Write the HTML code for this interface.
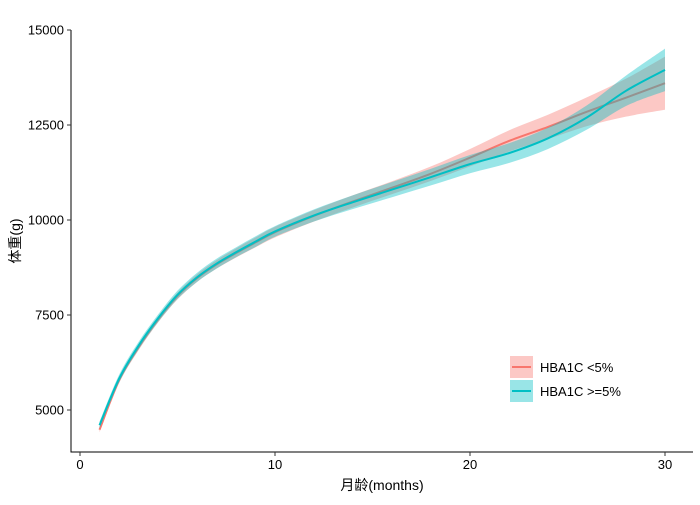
<!DOCTYPE html>
<html><head><meta charset="utf-8"><style>
body{margin:0;background:#fff}
svg text{font-family:"Liberation Sans","Noto Sans CJK SC",sans-serif}
</style></head><body>
<svg id="c" width="700" height="500"></svg>
<script>
const xs=[1,2,3,4,5,6,7,8,9,10,12,14,16,18,20,22,24,26,28,30];
const redMean=[4480,5780,6650,7380,8000,8470,8830,9130,9410,9680,10110,10490,10850,11220,11640,12080,12450,12850,13220,13600];
const cyanMean=[4600,5820,6690,7410,8030,8490,8850,9150,9430,9700,10120,10470,10800,11130,11470,11760,12150,12700,13400,13950];
const redHalf=[70,80,80,80,90,100,110,120,130,140,150,160,170,190,230,280,320,380,500,700];
const cyanHalf=[90,100,100,100,110,120,130,130,140,140,160,180,200,220,240,260,280,320,400,560];
const xTicks=[0,10,20,30];
const yTicks=[5000,7500,10000,12500,15000];
const seriesNames=["HBA1C <5%","HBA1C >=5%"];
const colors=["#F8766D","#00BFC4"];
const NS="http://www.w3.org/2000/svg";
const svg=document.getElementById('c');
const X=v=>80+v*19.5;
const Y=v=>30+(15000-v)*0.038;
function el(t,a,p){const e=document.createElementNS(NS,t);for(const k in a)e.setAttribute(k,a[k]);(p||svg).appendChild(e);return e;}
function smooth(pts){
  let d='M'+pts[0][0]+','+pts[0][1];
  for(let i=0;i<pts.length-1;i++){
    const p0=pts[i-1]||pts[i],p1=pts[i],p2=pts[i+1],p3=pts[i+2]||p2;
    const c1=[p1[0]+(p2[0]-p0[0])/6,p1[1]+(p2[1]-p0[1])/6];
    const c2=[p2[0]-(p3[0]-p1[0])/6,p2[1]-(p3[1]-p1[1])/6];
    d+=' C'+c1+' '+c2+' '+p2;
  }
  return d;
}
function band(mean,half,color,name){
  const up=xs.map((x,i)=>[X(x),Y(mean[i]+half[i])]);
  const lo=xs.map((x,i)=>[X(x),Y(mean[i]-half[i])]).reverse();
  const d=smooth(up)+' L'+lo[0]+' '+smooth(lo).slice(1)+' Z';
  const b=el('path',{d:d,fill:color,'fill-opacity':0.4});
  
  
  const l=el('path',{d:smooth(xs.map((x,i)=>[X(x),Y(mean[i])])),fill:'none',stroke:color,'stroke-width':2});
  
  
}
band(redMean,redHalf,colors[0],'hba1c-low');
band(cyanMean,cyanHalf,colors[1],'hba1c-high');
const ax=el('path',{d:'M71,30V452H693',fill:'none',stroke:'#000','stroke-width':1});


xTicks.forEach(t=>{
  el('line',{x1:X(t),x2:X(t),y1:452,y2:456,stroke:'#333'});
  const tx=el('text',{x:X(t),y:469,'text-anchor':'middle','font-size':13,fill:'#000'});tx.textContent=t;
  
  
});
yTicks.forEach(t=>{
  el('line',{x1:67,x2:71,y1:Y(t),y2:Y(t),stroke:'#333'});
  const tx=el('text',{x:64,y:Y(t)+4.5,'text-anchor':'end','font-size':13,fill:'#000'});tx.textContent=t;
  
  
});
const xt=el('text',{x:382,y:490,'text-anchor':'middle','font-size':14});xt.textContent='月龄(months)';


const yt=el('text',{x:0,y:0,'text-anchor':'middle','font-size':14,transform:'translate(20,241) rotate(-90)'});yt.textContent='体重(g)';


seriesNames.forEach((n,i)=>{
  const y0=356+i*24;
  const g=el('g',{});
  
  
  el('rect',{x:510,y:y0,width:23,height:22,fill:colors[i],'fill-opacity':0.4},g);
  el('line',{x1:512,x2:531,y1:y0+11,y2:y0+11,stroke:colors[i],'stroke-width':2},g);
  const tx=el('text',{x:540,y:y0+16,'font-size':13},g);tx.textContent=n;
});
</script>
</body></html>
